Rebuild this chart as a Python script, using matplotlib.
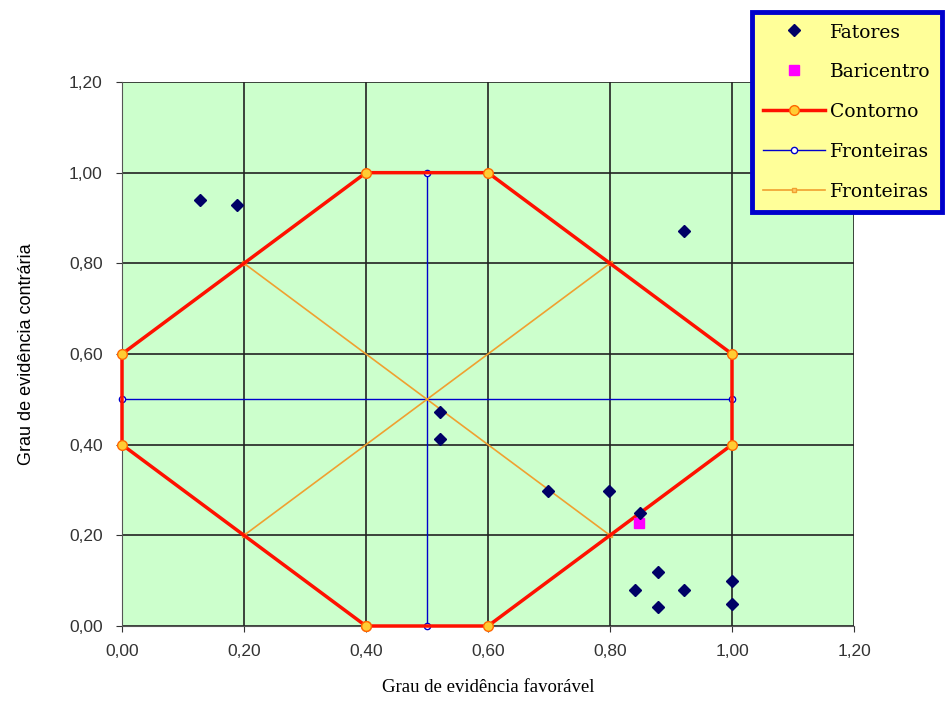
import matplotlib
matplotlib.use("Agg")
import matplotlib.pyplot as plt
from matplotlib.ticker import MultipleLocator, FuncFormatter

fat_x = [0.128, 0.189, 0.921, 0.521, 0.521, 0.698, 0.798, 0.849, 0.879, 0.841, 0.921, 0.879, 1.0, 1.0]
fat_y = [0.940, 0.929, 0.871, 0.472, 0.413, 0.298, 0.298, 0.249, 0.119, 0.079, 0.079, 0.042, 0.099, 0.049]
bar_x = [0.848]
bar_y = [0.227]
cont_x = [0.4, 0.6, 1.0, 1.0, 0.6, 0.4, 0.0, 0.0, 0.4]
cont_y = [0.0, 0.0, 0.4, 0.6, 1.0, 1.0, 0.6, 0.4, 0.0]
fb_v_x = [0.5, 0.5]; fb_v_y = [0.0, 1.0]
fb_h_x = [0.0, 1.0]; fb_h_y = [0.5, 0.5]
fo_a_x = [0.2, 0.8]; fo_a_y = [0.2, 0.8]
fo_b_x = [0.2, 0.8]; fo_b_y = [0.8, 0.2]

fig = plt.figure(figsize=(9.5, 7.09), dpi=100)
ax = fig.add_axes([122/950, 1-626/709, (854-122)/950, (626-82)/709])
ax.set_facecolor("#ccffcc")
ax.set_xlim(0, 1.2); ax.set_ylim(0, 1.2)
ax.xaxis.set_major_locator(MultipleLocator(0.2))
ax.yaxis.set_major_locator(MultipleLocator(0.2))
fmt = FuncFormatter(lambda v, p: f"{v:.2f}".replace(".", ","))
ax.xaxis.set_major_formatter(fmt); ax.yaxis.set_major_formatter(fmt)
ax.grid(True, color="#222222", linewidth=1.2)
ax.set_axisbelow(True)
for s in ["top", "right"]:
    ax.spines[s].set_visible(False)
for s in ["left", "bottom"]:
    ax.spines[s].set_color("#555555")
ax.tick_params(direction="out", length=4, colors="#333333", labelsize=12.5)
ax.tick_params(axis="x", pad=9)
ax.tick_params(axis="y", pad=10)
for lab in ax.get_xticklabels() + ax.get_yticklabels():
    lab.set_family("Liberation Sans")

l1, = ax.plot(fat_x, fat_y, linestyle="none", marker="D", markersize=6.5, color="#000066", label="Fatores", zorder=6, clip_on=False)
l2, = ax.plot(bar_x, bar_y, linestyle="none", marker="s", markersize=7, color="#ff00ff", label="Baricentro", zorder=5)
l4, = ax.plot(fb_v_x, fb_v_y, color="#0000cc", linewidth=1.0, marker="o", markersize=4.5, markerfacecolor="white", markeredgecolor="#0000cc", label="Fronteiras", zorder=3, clip_on=False)
ax.plot(fb_h_x, fb_h_y, color="#0000cc", linewidth=1.0, marker="o", markersize=4.5, markerfacecolor="white", markeredgecolor="#0000cc", zorder=3, clip_on=False)
l5, = ax.plot(fo_a_x, fo_a_y, color="#f0a030", linewidth=1.2, marker="s", markersize=3.5, markerfacecolor="#ffcc66", markeredgecolor="#f0a030", label="Fronteiras", zorder=3)
ax.plot(fo_b_x, fo_b_y, color="#f0a030", linewidth=1.2, marker="s", markersize=3.5, markerfacecolor="#ffcc66", markeredgecolor="#f0a030", zorder=3)
l3, = ax.plot(cont_x, cont_y, color="#ff1100", linewidth=2.5, marker="o", markersize=7, markerfacecolor="#ffcc33", markeredgecolor="#ff6600", label="Contorno", zorder=4, clip_on=False)

ax.set_xlabel("Grau de evidência favorável", family="Liberation Serif", fontsize=13.5, labelpad=14)
ax.set_ylabel("Grau de evidência contrária", family="Liberation Sans", fontsize=13, labelpad=24)

leg = fig.legend([l1, l2, l3, l4, l5], ["Fatores", "Baricentro", "Contorno", "Fronteiras", "Fronteiras"],
                 loc="upper left", bbox_to_anchor=(752/950, 1-12/709), frameon=True, fancybox=False,
                 prop={"family": "DejaVu Serif", "size": 13.5}, handlelength=3.3, borderpad=0.6,
                 labelspacing=1.15, handletextpad=0.25, borderaxespad=0, handleheight=0.9)
leg.get_frame().set_facecolor("#ffff99")
leg.get_frame().set_edgecolor("#0000cc")
leg.get_frame().set_linewidth(3.5)
leg.get_frame().set_alpha(1)

fig.savefig("out.png", dpi=100)
